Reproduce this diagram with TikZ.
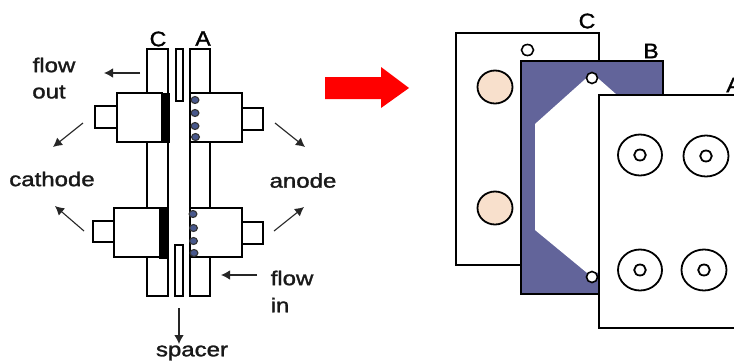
\documentclass[tikz,border=0pt]{standalone}
\usepackage{fontspec}
\setmainfont{Liberation Sans}
\newfontfamily\lblfont[FakeBold=1.3]{Liberation Sans}
\usetikzlibrary{arrows.meta}
\definecolor{plateblue}{RGB}{98,100,154}
\definecolor{peach}{RGB}{248,224,204}
\definecolor{dotblue}{RGB}{72,88,140}
\tikzset{
  part/.style={draw=black,line width=1.8pt,fill=white},
  thin part/.style={draw=black,line width=1.6pt,fill=white},
  dotc/.style={draw=black!80,line width=1.1pt,fill=dotblue},
  flowarrow/.style={draw=black!85,line width=1.1pt,-{Latex[length=9pt,width=9.5pt]}},
  lbl/.style={font=\lblfont\fontsize{20}{20}\selectfont,text=black!90,inner sep=0pt,transform shape,xscale=1.2},
  letter/.style={font=\lblfont\fontsize{21}{21}\selectfont,text=black,inner sep=0pt,transform shape,xscale=1.1},
}
\begin{document}
\begin{tikzpicture}[x=1pt,y=-1pt]
\useasboundingbox (0,0) rectangle (734,362);
\fill[white] (0,0) rectangle (734,362);
% --- left: cross-section ---
\draw[part] (147,49) rectangle (168,296);
\draw[part] (190,49) rectangle (210,296);
\draw[thin part] (176,49) rectangle (183,101);
\draw[thin part] (175,245) rectangle (183,296);
% cathode side
\draw[part] (95,106) rectangle (117,128);
\draw[part] (117,93) rectangle (162,142);
\fill[black] (161,92.5) rectangle (170,143);
\draw[part] (93,221) rectangle (114,242);
\draw[part] (114,208) rectangle (160,257);
\fill[black] (159,207) rectangle (168,258.5);
% anode side
\draw[part] (242,108) rectangle (263,130);
\draw[part] (190,93) rectangle (242,142);
\draw[part] (242,222) rectangle (263,244);
\draw[part] (190,208) rectangle (242,257);
% catalyst dots
\foreach \px/\py in {195/100,195/113,195/126,195.5/137,193/214,193.5/228,193.5/241,194/253}
  \draw[dotc] (\px,\py) ellipse (3.9 and 3.5);
% arrows
\coordinate (foS) at (140,73); \coordinate (foE) at (104,73);
\coordinate (ct1S) at (83,123); \coordinate (ct1E) at (53,147);
\coordinate (ct2S) at (84,231); \coordinate (ct2E) at (55,206);
\coordinate (an1S) at (275,123); \coordinate (an1E) at (305,147);
\coordinate (an2S) at (274,231); \coordinate (an2E) at (304,207);
\coordinate (fiS) at (257,275); \coordinate (fiE) at (221,275);
\coordinate (spS) at (179,308); \coordinate (spE) at (179,344);
\draw[flowarrow] (foS) -- (foE);
\draw[flowarrow] (ct1S) -- (ct1E);
\draw[flowarrow] (ct2S) -- (ct2E);
\draw[flowarrow] (an1S) -- (an1E);
\draw[flowarrow] (an2S) -- (an2E);
\draw[flowarrow] (fiS) -- (fiE);
\draw[flowarrow] (spS) -- (spE);
% labels
\node[letter] (lC) at (158,39) {C};
\node[letter] (lA) at (203,38.5) {A};
\node[lbl] (flow1) at (54,65) {flow};
\node[lbl] (out) at (49,92) {out};
\node[lbl] (cath) at (52,179) {cathode};
\node[lbl] (anod) at (303,180.5) {anode};
\node[lbl] (flow2) at (292,278) {flow};
\node[lbl] (inn) at (280,305) {in};
\node[lbl] (spac) at (192,353) {spacer};
% red arrow
\fill[red] (325,77) -- (381,77) -- (381,67) -- (409,88) -- (381,108) -- (381,99) -- (325,99) -- cycle;
% --- right: exploded view ---
\draw[part] (456,33) rectangle (599,265);
\draw[thin part] (527.5,50) ellipse (6 and 5.5);
\draw[part,fill=peach] (495,87) ellipse (17.5 and 16.5);
\draw[part,fill=peach] (495,208) ellipse (17.5 and 16.5);
\draw[draw=black,line width=1.6pt,fill=plateblue] (521,61) rectangle (663,294);
\fill[white] (535,124) -- (592,73) -- (650,124) -- (650,230) -- (592,277) -- (535,230) -- cycle;
\draw[thin part] (592,78) ellipse (5.5 and 5.5);
\draw[thin part] (592,277) ellipse (5.5 and 5.5);
\draw[part] (599,95) rectangle (740,328);
\foreach \cx/\cy/\rx in {640/155/22,706/156/22.5,640/270/22,704/270/22.5}{
  \draw[line width=1.8pt] (\cx,\cy) ellipse (\rx pt and 20.5pt);
  \draw[line width=1.8pt] (\cx,\cy) ellipse (5.8pt and 5.5pt);
}
\node[letter] (rC) at (587,21) {C};
\node[letter] (rB) at (651,51) {B};
\node[letter] (rA) at (734,85) {A};
\end{tikzpicture}
\end{document}
